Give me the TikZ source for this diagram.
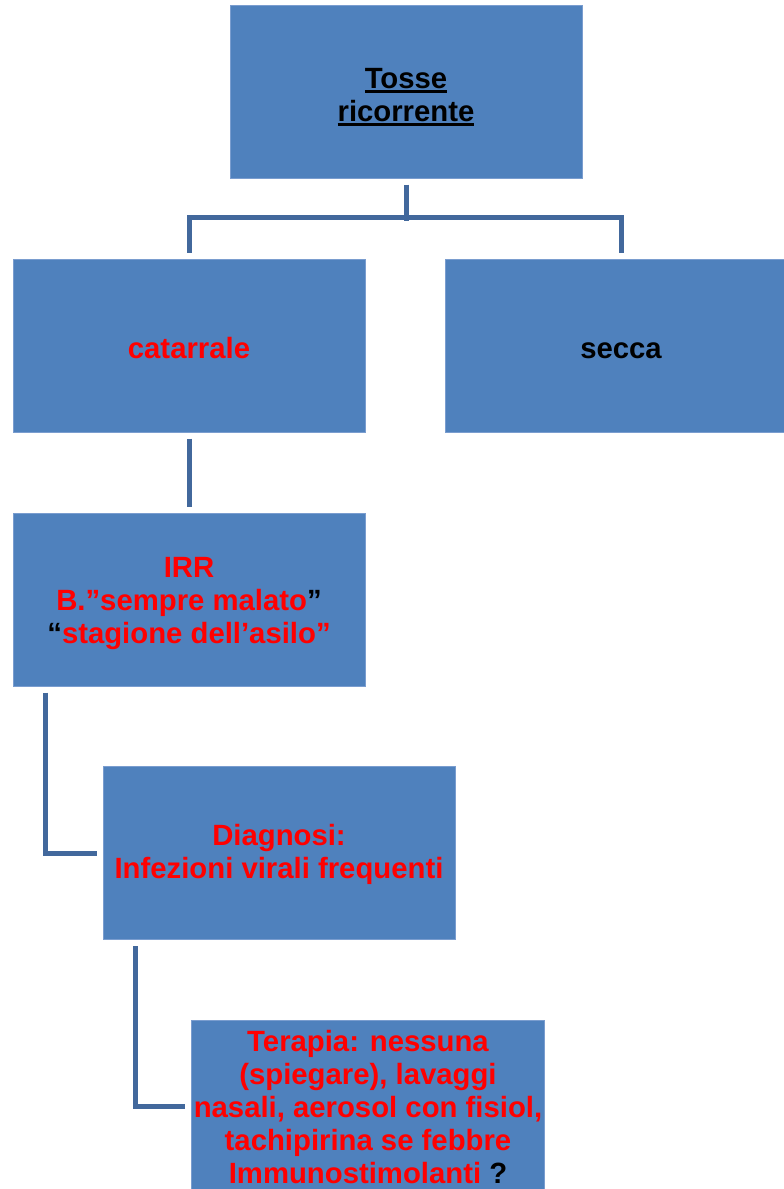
\documentclass[tikz,border=0pt]{standalone}
\usepackage{fontspec}
\setmainfont{Liberation Sans}
\definecolor{boxfill}{RGB}{79,129,189}
\definecolor{boxedge}{RGB}{122,157,207}
\definecolor{linkcol}{RGB}{66,104,156}
\definecolor{hot}{RGB}{255,0,0}
% underline with a heavier rule, as in the title box
\newcommand{\thickul}[1]{\leavevmode\vtop{\hbox{#1}\kern1.5pt\hrule height 2.8pt}}
% invisible strut that sets the height of a first line
\newcommand{\headroom}[1]{\rule{0pt}{#1}}
\tikzset{
  card/.style={rectangle, fill=boxfill, draw=boxedge, line width=1pt,
    minimum width=352pt, minimum height=173pt, inner sep=2pt,
    align=center, font=\fontsize{29.3pt}{33pt}\selectfont\bfseries},
  conn/.style={draw=linkcol, line width=5pt, line join=miter, line cap=butt},
}
\begin{document}
\begin{tikzpicture}[x=1pt, y=-1pt]
\useasboundingbox (0,0) rectangle (784,1189);
\node[card] (top) at (406,91.5)
  {\headroom{31pt}\thickul{Tosse}\\[0pt]\thickul{ricorrente}};
\node[card, text=hot] (cat) at (189,345.5) {\headroom{27pt}catarrale};
\node[card] (sec) at (621,345.5) {\headroom{27pt}secca};
\node[card, text=hot] (irr) at (189,599.5)
  {\headroom{29pt}IRR\\B.”sempre malato\textcolor{black}{”}\\\textcolor{black}{“}stagione dell’asilo”};
\node[card, text=hot] (diag) at (279,853) {\headroom{25pt}Diagnosi:\\Infezioni virali frequenti};
\node[card, text=hot] (ter) at (368,1106.5)
  {\headroom{23pt}Terapia: nessuna\\(spiegare), lavaggi\\nasali, aerosol con fisiol,\\tachipirina se febbre\\Immunostimolanti \textcolor{black}{?}};

\draw[conn] ([yshift=-6pt]top.south) -- ++(0,36);
\draw[conn] ([yshift=6pt]cat.north) -- ++(0,-35) -| ([yshift=6pt]sec.north);
\draw[conn] ([yshift=-6pt]cat.south) -- ([yshift=6pt]irr.north);
\draw[conn] ([xshift=33pt,yshift=-6pt]irr.south west) |- ([xshift=-6pt]diag.west);
\draw[conn] ([xshift=33pt,yshift=-6pt]diag.south west) |- ([xshift=-6pt]ter.west);
\end{tikzpicture}
\end{document}
